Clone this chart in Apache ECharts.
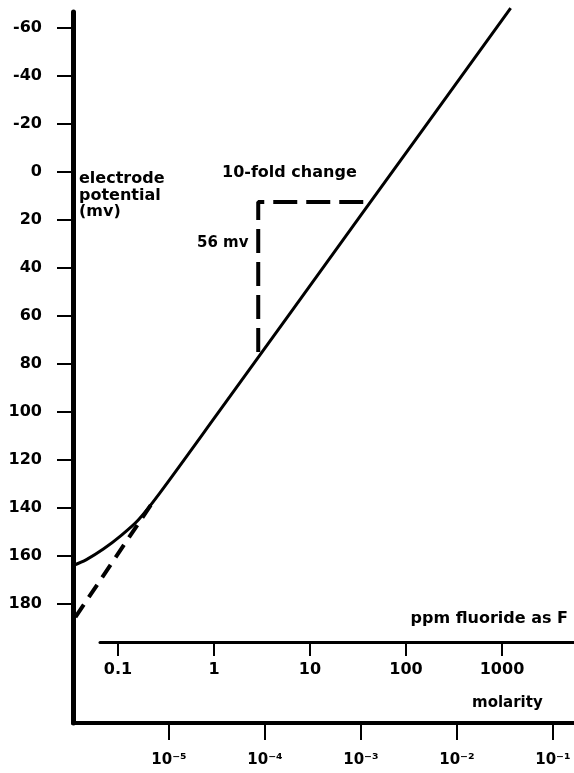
<!DOCTYPE html>
<html>
<head>
<meta charset="utf-8">
<script src="https://cdn.jsdelivr.net/npm/echarts@6/dist/echarts.min.js"></script>
<style>
  html, body { margin: 0; padding: 0; background: #fff; }
  #chart { width: 574px; height: 773px; }
</style>
</head>
<body>
<div id="chart"></div>
<script>
// log10(molarity) and electrode potential (mv)
const curveLogM = [-1.44, -3.0, -4.5, -5.10, -5.32, -5.50, -5.68, -5.86, -6.0];
const curveMv   = [-68.3, 18, 101, 134, 145, 151.5, 157, 161.5, 164];

// dashed extrapolation of the straight part down to the axis
const extrapLogM = [-5.19, -5.98];
const extrapMv   = [138.8, 185.8];

// 10-fold change / 56 mv triangle
const triLogM = [-4.07, -4.07, -2.90];
const triMv   = [75, 12.5, 12.5];

const mvTicks = [-60, -40, -20, 0, 20, 40, 60, 80, 100, 120, 140, 160, 180];
const molarTicks = [-5, -4, -3, -2, -1];
const ppmTicks = [-1, 0, 1, 2, 3];
const ppmLabels = ['0.1', '1', '10', '100', '1000'];

const sup = {'-': '\u207B', '1': '\u00B9', '2': '\u00B2', '3': '\u00B3', '4': '\u2074', '5': '\u2075', '6': '\u2076'};
const toSup = v => String(v).split('').map(c => sup[c]).join('');

const zip = (xs, ys) => xs.map((x, i) => [x, ys[i]]);

const FONT = 'DejaVu Sans';
const labelStyle = {color: '#000', fontFamily: FONT, fontWeight: 'bold', fontSize: 16};

const chart = echarts.init(document.getElementById('chart'));

chart.setOption({
    animation: false,
    backgroundColor: '#fff',
    grid: [
        {left: 73, right: 0, top: 12, bottom: 50},
        {left: 100, right: 0, top: 641, height: 1}
    ],
    xAxis: [
        {
            type: 'value', gridIndex: 0, min: -6, max: -0.78, interval: 1,
            axisLine: {onZero: false, lineStyle: {color: '#000', width: 4}},
            axisTick: {length: 17, customValues: molarTicks, lineStyle: {color: '#000', width: 2}},
            axisLabel: Object.assign({}, labelStyle, {
                fontSize: 15, margin: 30, customValues: molarTicks,
                formatter: v => '10' + toSup(v)
            }),
            splitLine: {show: false}
        },
        {
            type: 'value', gridIndex: 1, min: -1.1875, max: 3.75,
            axisLine: {onZero: false, lineStyle: {color: '#000', width: 3}},
            axisTick: {length: 14, customValues: ppmTicks, lineStyle: {color: '#000', width: 2}},
            axisLabel: Object.assign({}, labelStyle, {
                margin: 20, customValues: ppmTicks,
                formatter: v => ppmLabels[ppmTicks.indexOf(Math.round(v))]
            }),
            splitLine: {show: false}
        }
    ],
    yAxis: [
        {
            type: 'value', gridIndex: 0, inverse: true, min: -66.7, max: 229.6,
            axisLine: {show: true, onZero: false, lineStyle: {color: '#000', width: 5}},
            axisTick: {show: true, length: 16, customValues: mvTicks, lineStyle: {color: '#000', width: 2}},
            axisLabel: Object.assign({}, labelStyle, {margin: 31, customValues: mvTicks}),
            splitLine: {show: false}
        },
        {type: 'value', gridIndex: 1, show: false}
    ],
    series: [
        {
            type: 'line', xAxisIndex: 0, yAxisIndex: 0,
            data: zip(curveLogM, curveMv), smooth: 0.3, symbol: 'none', clip: false,
            lineStyle: {color: '#000', width: 3}
        },
        {
            type: 'line', xAxisIndex: 0, yAxisIndex: 0,
            data: zip(extrapLogM, extrapMv), symbol: 'none', clip: false,
            lineStyle: {color: '#000', width: 4, type: [15, 9]}
        },
        {
            type: 'line', xAxisIndex: 0, yAxisIndex: 0,
            data: zip(triLogM, triMv), symbol: 'none', clip: false,
            lineStyle: {color: '#000', width: 4, type: [24, 9]}
        }
    ],
    graphic: [
        {type: 'text', left: 79, top: 171, style: {
            text: 'electrode\npotential\n(mv)', font: 'bold 16px ' + FONT, fill: '#000', lineHeight: 16.5}},
        {type: 'text', left: 222, top: 165, style: {
            text: '10-fold change', font: 'bold 16px ' + FONT, fill: '#000'}},
        {type: 'text', left: 197, top: 236, style: {
            text: '56 mv', font: 'bold 15px ' + FONT, fill: '#000'}},
        {type: 'text', right: 6, top: 611, style: {
            text: 'ppm fluoride as F', font: 'bold 16px ' + FONT, fill: '#000'}},
        {type: 'text', left: 472, top: 696, style: {
            text: 'molarity', font: 'bold 15px ' + FONT, fill: '#000'}}
    ]
});
</script>
</body>
</html>
